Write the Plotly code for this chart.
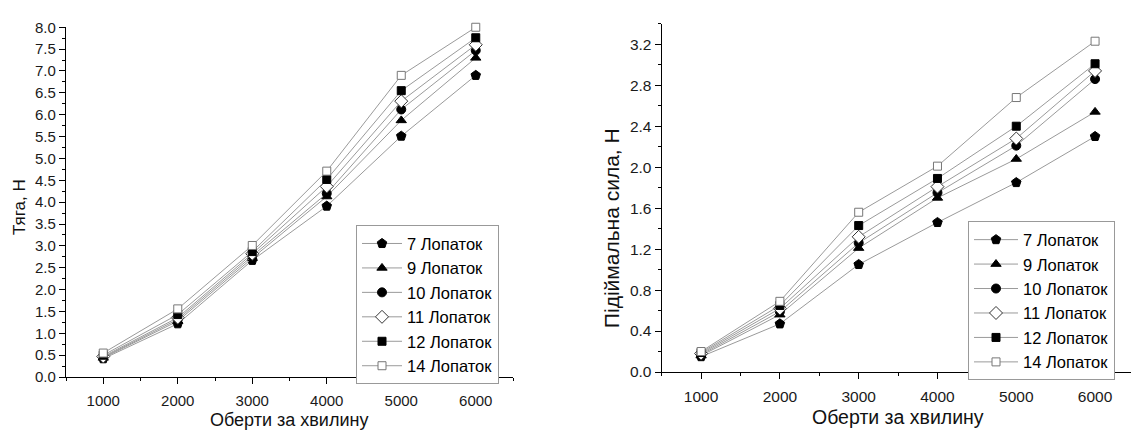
import plotly.graph_objects as go

W, H = 1131, 437

rpm = [1000, 2000, 3000, 4000, 5000, 6000]
series_names = ["7 Лопаток", "9 Лопаток", "10 Лопаток", "11 Лопаток", "12 Лопаток", "14 Лопаток"]

thrust_7 = [0.42, 1.22, 2.67, 3.91, 5.51, 6.90]
thrust_9 = [0.44, 1.28, 2.72, 4.13, 5.87, 7.30]
thrust_10 = [0.45, 1.32, 2.77, 4.20, 6.12, 7.47]
thrust_11 = [0.47, 1.36, 2.82, 4.36, 6.31, 7.60]
thrust_12 = [0.50, 1.43, 2.87, 4.52, 6.55, 7.76]
thrust_14 = [0.55, 1.56, 3.01, 4.71, 6.90, 8.00]

lift_7 = [0.15, 0.47, 1.05, 1.46, 1.85, 2.30]
lift_9 = [0.16, 0.56, 1.21, 1.70, 2.08, 2.54]
lift_10 = [0.17, 0.59, 1.26, 1.75, 2.21, 2.86]
lift_11 = [0.18, 0.62, 1.32, 1.81, 2.28, 2.94]
lift_12 = [0.19, 0.65, 1.43, 1.89, 2.40, 3.01]
lift_14 = [0.20, 0.69, 1.56, 2.01, 2.68, 3.23]

thrust = [thrust_7, thrust_9, thrust_10, thrust_11, thrust_12, thrust_14]
lift = [lift_7, lift_9, lift_10, lift_11, lift_12, lift_14]

x_title = "Оберти за хвилину"
y_title_left = "Тяга, Н"
y_title_right = "Підіймальна сила, Н"

FONT = "Liberation Sans, Arial, sans-serif"

styles = [
    dict(symbol="pentagon", color="black", line=dict(color="black", width=1), size=10),
    dict(symbol="triangle-up", color="black", line=dict(color="black", width=1), size=9),
    dict(symbol="circle", color="black", line=dict(color="black", width=1), size=9),
    dict(symbol="diamond", color="white", line=dict(color="#333333", width=1), size=10),
    dict(symbol="square", color="black", line=dict(color="black", width=1), size=8),
    dict(symbol="square", color="white", line=dict(color="#777777", width=1), size=8),
]

def px_x(p):
    return p / W

def px_y(p):
    return 1 - p / H

fig = go.Figure()
for name, vals, st in zip(series_names, thrust, styles):
    fig.add_trace(go.Scatter(x=rpm, y=vals, name=name, mode="lines+markers",
                             line=dict(color="#9a9a9a", width=1), marker=st,
                             xaxis="x", yaxis="y", legend="legend", cliponaxis=False))
for name, vals, st in zip(series_names, lift, styles):
    fig.add_trace(go.Scatter(x=rpm, y=vals, name=name, mode="lines+markers",
                             line=dict(color="#9a9a9a", width=1), marker=st,
                             xaxis="x2", yaxis="y2", legend="legend2", cliponaxis=False))

axis_common = dict(showline=True, linecolor="black", linewidth=1.3, showgrid=False,
                   zeroline=False, ticks="outside", tickcolor="black", tickwidth=1.3,
                   ticklen=6)
minor_common = dict(ticks="outside", ticklen=3, tick0=0, tickcolor="black", tickwidth=1.3)

fig.update_layout(
    xaxis=dict(axis_common, domain=[px_x(66), px_x(513)], range=[500, 6500],
               tick0=0, dtick=1000, anchor="y", ticklabelstandoff=4,
               tickfont=dict(size=15, color="#1a1a1a"),
               minor=dict(minor_common, dtick=500)),
    yaxis=dict(axis_common, domain=[px_y(383), px_y(19)], range=[0, 8],
               tick0=0, dtick=0.5, tickformat=".1f", anchor="x",
               tickfont=dict(size=15, color="#1a1a1a"),
               minor=dict(minor_common, dtick=0.25)),
    xaxis2=dict(axis_common, domain=[px_x(661.7), 1.0], range=[500, 6456],
                tick0=0, dtick=1000, anchor="y2", ticklabelstandoff=4,
                tickfont=dict(size=15.5, color="#1a1a1a"),
                minor=dict(minor_common, dtick=500)),
    yaxis2=dict(axis_common, domain=[px_y(377.7), px_y(15.4)], range=[0, 3.4],
                tick0=0, dtick=0.4, tickformat=".1f", anchor="x2",
                tickfont=dict(size=15.5, color="#1a1a1a"),
                minor=dict(minor_common, dtick=0.2)),
)

legend_common = dict(bgcolor="white", bordercolor="#999999", borderwidth=1,
                     xanchor="left", yanchor="top",
                     tracegroupgap=0, itemclick=False)
fig.update_layout(
    legend=dict(legend_common, x=px_x(356), y=px_y(225), itemwidth=40,
                font=dict(family=FONT, size=16.5, color="black")),
    legend2=dict(legend_common, x=px_x(968), y=px_y(221), itemwidth=44,
                 font=dict(family=FONT, size=16.5, color="black")),
)

annos = [
    dict(text=x_title, x=px_x(289), y=px_y(428), font=dict(size=18)),
    dict(text=x_title, x=px_x(898), y=px_y(425), font=dict(size=19.5)),
    dict(text=y_title_left, x=px_x(20), y=px_y(206), font=dict(size=17), textangle=-90),
    dict(text=y_title_right, x=px_x(611), y=px_y(228), font=dict(size=21), textangle=-90),
]
for a in annos:
    a.update(xref="paper", yref="paper", xanchor="center", yanchor="middle", showarrow=False)
    a["font"].update(family=FONT, color="#111")
fig.update_layout(annotations=annos)

fig.update_layout(
    width=W, height=H, margin=dict(l=0, r=0, t=0, b=0),
    paper_bgcolor="white", plot_bgcolor="white",
    font=dict(family=FONT, color="#222"),
    showlegend=True,
)

fig.write_html("out.html")
